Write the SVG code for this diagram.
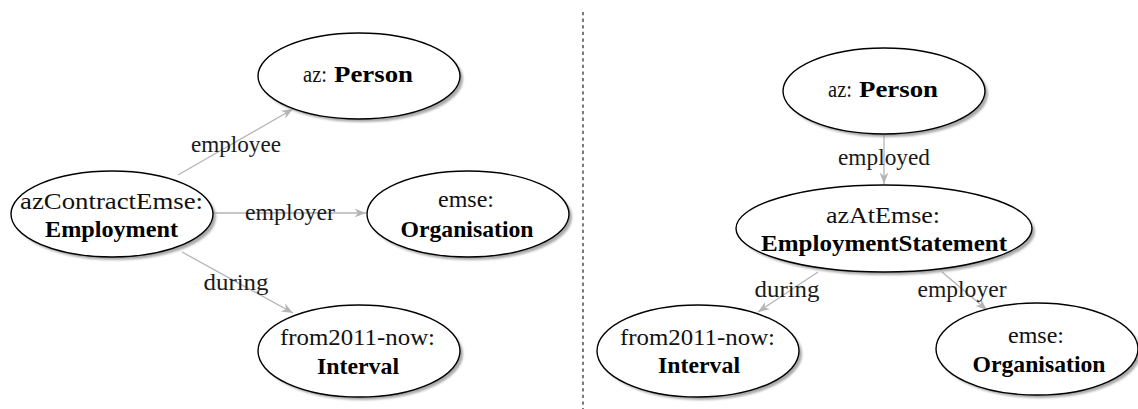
<svg xmlns="http://www.w3.org/2000/svg" width="1138" height="409" viewBox="0 0 1138 409">
<style>
  .shadow { fill: #8c8c8c; opacity: 0.75; filter: url(#blur); }
  .node { fill: #ffffff; stroke: #000000; stroke-width: 1.4; }
  .reg { font-family: "Liberation Serif", "DejaVu Serif", serif; font-size: 24px; fill: #111111; }
  .bold { font-family: "Liberation Serif", "DejaVu Serif", serif; font-size: 24px; font-weight: bold; fill: #000000; }
  .edge { stroke: #b5b5b5; stroke-width: 1.3; fill: none; marker-end: url(#arrow); }
  .lbl { font-family: "Liberation Serif", "DejaVu Serif", serif; font-size: 24px; fill: #1a1a1a; text-anchor: middle; }
  .c { text-anchor: middle; }
</style>
<defs>
  <filter id="blur" x="-10%" y="-10%" width="120%" height="120%">
    <feGaussianBlur stdDeviation="1.2"/>
  </filter>
  <marker id="arrow" markerUnits="userSpaceOnUse" markerWidth="12" markerHeight="10" viewBox="0 0 10 8" refX="9.5" refY="4" orient="auto">
    <path d="M0,0.3 L9.5,4 L0,7.7 L2.8,4 Z" fill="#b5b5b5"/>
  </marker>
</defs>

<line x1="583" y1="12" x2="583" y2="409" stroke="#333333" stroke-width="1.3" stroke-dasharray="3.3 3.3"/>

<g id="connectors">
  <line class="edge" x1="178" y1="175" x2="293" y2="109"/>
  <line class="edge" x1="214" y1="213" x2="366" y2="213"/>
  <line class="edge" x1="182" y1="252" x2="293" y2="313"/>
  <line class="edge" x1="884" y1="134" x2="884" y2="184"/>
  <line class="edge" x1="818" y1="272" x2="758" y2="312"/>
  <line class="edge" x1="942" y1="272" x2="987" y2="310"/>
  <text class="lbl" x="236" y="152" textLength="90" lengthAdjust="spacingAndGlyphs">employee</text>
  <text class="lbl" x="290" y="220" textLength="90" lengthAdjust="spacingAndGlyphs">employer</text>
  <text class="lbl" x="236" y="290" textLength="65" lengthAdjust="spacingAndGlyphs">during</text>
  <text class="lbl" x="884" y="165" textLength="92" lengthAdjust="spacingAndGlyphs">employed</text>
  <text class="lbl" x="787" y="297" textLength="65" lengthAdjust="spacingAndGlyphs">during</text>
  <text class="lbl" x="962" y="297" textLength="89" lengthAdjust="spacingAndGlyphs">employer</text>
</g>

<g id="personL">
  <ellipse class="shadow" cx="362" cy="79" rx="101" ry="43"/>
  <ellipse class="node" cx="359" cy="76" rx="101" ry="43"/>
  <text y="82"><tspan class="reg" x="303" textLength="24" lengthAdjust="spacingAndGlyphs">az:</tspan><tspan class="bold" x="334" textLength="79" lengthAdjust="spacingAndGlyphs">Person</tspan></text>
</g>

<g id="employment">
  <ellipse class="shadow" cx="115" cy="217" rx="101" ry="43"/>
  <ellipse class="node" cx="112" cy="214" rx="101" ry="43"/>
  <text class="reg c" x="111.5" y="209" textLength="183" lengthAdjust="spacingAndGlyphs">azContractEmse:</text>
  <text class="bold c" x="111.5" y="237" textLength="133" lengthAdjust="spacingAndGlyphs">Employment</text>
</g>

<g id="organisationL">
  <ellipse class="shadow" cx="471" cy="217" rx="101" ry="43"/>
  <ellipse class="node" cx="468" cy="214" rx="101" ry="43"/>
  <text class="reg c" x="466" y="207" textLength="56" lengthAdjust="spacingAndGlyphs">emse:</text>
  <text class="bold c" x="467" y="237" textLength="133" lengthAdjust="spacingAndGlyphs">Organisation</text>
</g>

<g id="intervalL">
  <ellipse class="shadow" cx="362" cy="354" rx="101" ry="46"/>
  <ellipse class="node" cx="359" cy="351" rx="101" ry="46"/>
  <text class="reg c" x="357.5" y="345" textLength="155" lengthAdjust="spacingAndGlyphs">from2011-now:</text>
  <text class="bold c" x="358" y="374" textLength="82" lengthAdjust="spacingAndGlyphs">Interval</text>
</g>

<g id="personR">
  <ellipse class="shadow" cx="887" cy="94" rx="101" ry="43"/>
  <ellipse class="node" cx="884" cy="91" rx="101" ry="43"/>
  <text y="97"><tspan class="reg" x="828" textLength="24" lengthAdjust="spacingAndGlyphs">az:</tspan><tspan class="bold" x="859" textLength="79" lengthAdjust="spacingAndGlyphs">Person</tspan></text>
</g>

<g id="employmentStatement">
  <ellipse class="shadow" cx="887" cy="231.5" rx="148" ry="43.5"/>
  <ellipse class="node" cx="884" cy="228.5" rx="148" ry="43.5"/>
  <text class="reg c" x="883" y="223" textLength="114" lengthAdjust="spacingAndGlyphs">azAtEmse:</text>
  <text class="bold c" x="884" y="251" textLength="246" lengthAdjust="spacingAndGlyphs">EmploymentStatement</text>
</g>

<g id="intervalR">
  <ellipse class="shadow" cx="701" cy="354" rx="101" ry="46"/>
  <ellipse class="node" cx="698" cy="351" rx="101" ry="46"/>
  <text class="reg c" x="697.5" y="345" textLength="155" lengthAdjust="spacingAndGlyphs">from2011-now:</text>
  <text class="bold c" x="699" y="373" textLength="82" lengthAdjust="spacingAndGlyphs">Interval</text>
</g>

<g id="organisationR">
  <ellipse class="shadow" cx="1040" cy="352" rx="101" ry="46"/>
  <ellipse class="node" cx="1037" cy="349" rx="101" ry="46"/>
  <text class="reg c" x="1036" y="343" textLength="56" lengthAdjust="spacingAndGlyphs">emse:</text>
  <text class="bold c" x="1039" y="372" textLength="133" lengthAdjust="spacingAndGlyphs">Organisation</text>
</g>
</svg>
